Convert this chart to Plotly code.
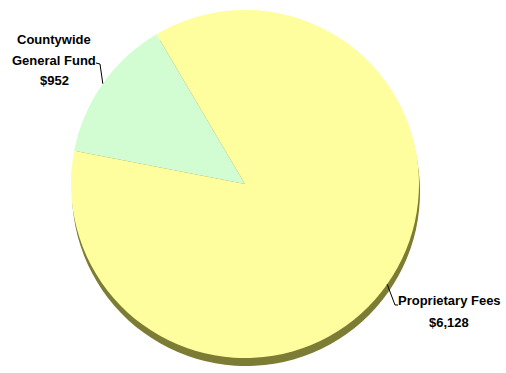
import math
import plotly.graph_objects as go

# ---- data ----
labels = ["Countywide General Fund", "Proprietary Fees"]
label_lines = [["Countywide", "General Fund", "$952"], ["Proprietary Fees", "$6,128"]]
values = [952, 6128]
colors = ["#D2FDD2", "#FEFE9E"]

# ---- layout constants (pixels) ----
W, H = 506, 373
CX, CY, R = 245, 184, 174
SHADOW_DY = 8
ROT = -79  # first slice starts 79 deg counter-clockwise from 12 o'clock, goes clockwise


def px(x):
    return x / W


def py(y):
    return 1 - y / H


fig = go.Figure()

# shadow (3D rim look)
fig.add_trace(go.Pie(
    values=values, labels=labels, sort=False, direction="clockwise",
    rotation=ROT, marker=dict(colors=["#7C7C34", "#7C7C34"], line=dict(width=0)),
    textinfo="none", hoverinfo="skip", showlegend=False,
    domain=dict(x=[px(CX - R + 1), px(CX + R + 1)],
                y=[py(CY + R + SHADOW_DY), py(CY - R + SHADOW_DY)]),
))

fig.add_trace(go.Pie(
    values=values, labels=labels, sort=False, direction="clockwise",
    rotation=ROT, marker=dict(colors=colors, line=dict(width=0)),
    textinfo="none", showlegend=False,
    domain=dict(x=[px(CX - R), px(CX + R)], y=[py(CY + R), py(CY - R)]),
))

# leader lines from slice mid-angles (clockwise angles from 12 o'clock)
total = sum(values)
mids = []
acc = ROT
for v in values:
    ang = v / total * 360
    mids.append(acc + ang / 2)
    acc += ang

text_center_x = [54, 449]
text_line_y = [[40, 60, 80], [300, 322]]
elbows = [((100, 64), (96, 63)), ((395, 305), (398, 305))]
shapes = []
annotations = []
for i, m in enumerate(mids):
    a = math.radians(m)
    ex = CX + R * math.sin(a)
    ey = CY - R * math.cos(a)
    (bx, by), (tx, ty) = elbows[i]
    shapes.append(dict(type="path", xref="paper", yref="paper",
                       path=f"M {px(ex)} {py(ey)} L {px(bx)} {py(by)} L {px(tx)} {py(ty)}",
                       line=dict(color="black", width=1)))
    for line, ly in zip(label_lines[i], text_line_y[i]):
        annotations.append(dict(x=px(text_center_x[i]), y=py(ly), xref="paper", yref="paper",
                                text=f"<b>{line}</b>", showarrow=False,
                                xanchor="center", yanchor="middle", align="center",
                                font=dict(family="Liberation Sans, Arial, sans-serif",
                                          size=13, color="black")))

fig.update_layout(
    width=W, height=H, margin=dict(l=0, r=0, t=0, b=0),
    paper_bgcolor="white", plot_bgcolor="white",
    shapes=shapes, annotations=annotations,
)

fig.write_html("out.html")
